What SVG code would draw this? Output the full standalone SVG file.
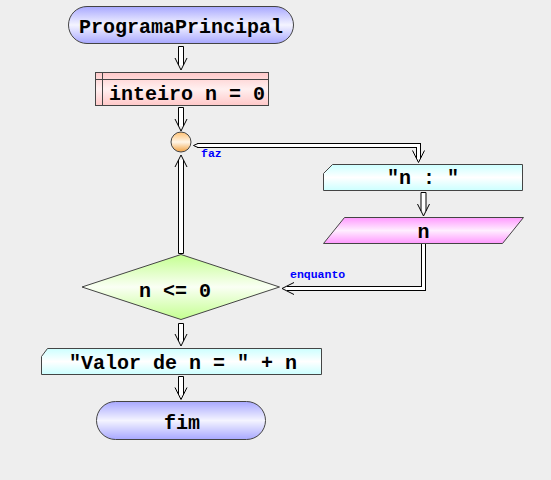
<svg xmlns="http://www.w3.org/2000/svg" width="551" height="480" viewBox="0 0 551 480">
<defs>
<linearGradient id="gTerm" x1="0" y1="0" x2="0" y2="1"><stop offset="0" stop-color="#a8a8ff"/><stop offset="0.5" stop-color="#f4f4ff"/><stop offset="1" stop-color="#a8a8ff"/></linearGradient>
<linearGradient id="gDecl" x1="0" y1="0" x2="0" y2="1"><stop offset="0" stop-color="#ffc8c8"/><stop offset="0.5" stop-color="#fff0f0"/><stop offset="1" stop-color="#ffc8c8"/></linearGradient>
<linearGradient id="gCirc" x1="0" y1="0" x2="0" y2="1"><stop offset="0" stop-color="#ffc070"/><stop offset="0.5" stop-color="#fff6e8"/><stop offset="1" stop-color="#f0a040"/></linearGradient>
<linearGradient id="gOut" x1="0" y1="0" x2="0" y2="1"><stop offset="0" stop-color="#ccffff"/><stop offset="0.5" stop-color="#ffffff"/><stop offset="1" stop-color="#ccffff"/></linearGradient>
<linearGradient id="gIn" x1="0" y1="0" x2="0" y2="1"><stop offset="0" stop-color="#ff99ff"/><stop offset="0.5" stop-color="#ffeeff"/><stop offset="1" stop-color="#ff99ff"/></linearGradient>
<linearGradient id="gDec" x1="0" y1="0" x2="0" y2="1"><stop offset="0" stop-color="#c4ff90"/><stop offset="0.5" stop-color="#fafff4"/><stop offset="1" stop-color="#c4ff90"/></linearGradient>
</defs>
<style>
.sh{stroke:#444;stroke-width:1;}
.t{font-family:"Liberation Mono","Courier New",monospace;font-weight:bold;font-size:20px;fill:#000;}
.lb{font-family:"Liberation Mono","Courier New",monospace;font-weight:bold;font-size:11.5px;fill:#0000ff;}
.ar{fill:#fff;stroke:#000;stroke-width:1;}
.v{fill:none;stroke:#000;stroke-width:1;}
.wb{fill:none;stroke:#000;stroke-width:5;stroke-linejoin:miter;}
.ww{fill:none;stroke:#fff;stroke-width:3;stroke-linejoin:miter;}
</style>
<rect x="0" y="0" width="551" height="480" fill="#eeeeee"/>

<g id="connectors">
<path class="ar" d="M178.5,65 V46.5 H183.5 V65"/>
<path class="v" d="M175,58 L181,70 L187,58"/>
<path class="ar" d="M178.5,126 V107.5 H183.5 V126"/>
<path class="v" d="M175,119 L181,131 L187,119"/>
<path class="ar" d="M178.5,160 V253.5 H183.5 V160"/>
<path class="v" d="M175,167 L181,155 L187,167"/>
<path class="wb" d="M197,145.5 H418.5 V158"/>
<path class="ww" d="M196,145.5 H418.5 V159"/>
<path d="M198,143.5 L193.5,145.5 L198,147.5 Z" fill="#fff"/>
<path class="v" d="M198,143.5 L193.5,145.5 L198,147.5"/>
<path class="v" d="M412.5,150.5 L418.5,162.5 L424.5,150.5"/>
<path class="ar" d="M421,211 V192.5 H426 V211"/>
<path class="v" d="M417.5,204 L423.5,216 L429.5,204"/>
<path class="wb" d="M423.5,244 V288.5 H287"/>
<path class="ww" d="M423.5,244 V288.5 H286"/>
<path class="v" d="M294,282.5 L282,288.5 L294,294.5"/>
<path class="ar" d="M178.5,341 V323.5 H183.5 V341"/>
<path class="v" d="M175,334 L181,346 L187,334"/>
<path class="ar" d="M178.5,394.5 V376.5 H183.5 V394.5"/>
<path class="v" d="M175,387.5 L181,399.5 L187,387.5"/>
<text class="lb" x="201" y="157">faz</text>
<text class="lb" x="290" y="278">enquanto</text>
</g>

<g id="start">
<rect class="sh" x="68.5" y="6.5" width="225" height="37" rx="18.5" fill="url(#gTerm)"/>
<text class="t" x="181" y="33" text-anchor="middle">ProgramaPrincipal</text>
</g>

<g id="decl">
<rect class="sh" x="95.5" y="72.5" width="173" height="33" fill="url(#gDecl)"/>
<path class="sh" d="M95.5,79.5 H268.5 M102.5,72.5 V105.5" fill="none"/>
<text class="t" x="109" y="100">inteiro n = 0</text>
</g>

<g id="loopStart">
<circle class="sh" cx="181" cy="142" r="10" fill="url(#gCirc)"/>
</g>

<g id="output1">
<path class="sh" d="M332.5,164.5 H522.5 V190.5 H323.5 V173.5 Z" fill="url(#gOut)"/>
<text class="t" x="423" y="184" text-anchor="middle">"n : "</text>
</g>

<g id="input1">
<path class="sh" d="M344.5,217.5 H523.5 L502.5,243.5 H323.5 Z" fill="url(#gIn)"/>
<text class="t" x="423.5" y="238" text-anchor="middle">n</text>
</g>

<g id="cond">
<path class="sh" d="M82,287 L181,254.5 L279.5,287 L181,319.5 Z" fill="url(#gDec)"/>
<text class="t" x="139" y="297">n &lt;= 0</text>
</g>

<g id="output2">
<path class="sh" d="M47.5,348.5 H321.5 V374.5 H41.5 V356.5 Z" fill="url(#gOut)"/>
<text class="t" x="69" y="369">"Valor de n = " + n</text>
</g>

<g id="end">
<rect class="sh" x="96.5" y="401.5" width="169" height="38" rx="19" fill="url(#gTerm)"/>
<text class="t" x="182" y="429" text-anchor="middle">fim</text>
</g>
</svg>
